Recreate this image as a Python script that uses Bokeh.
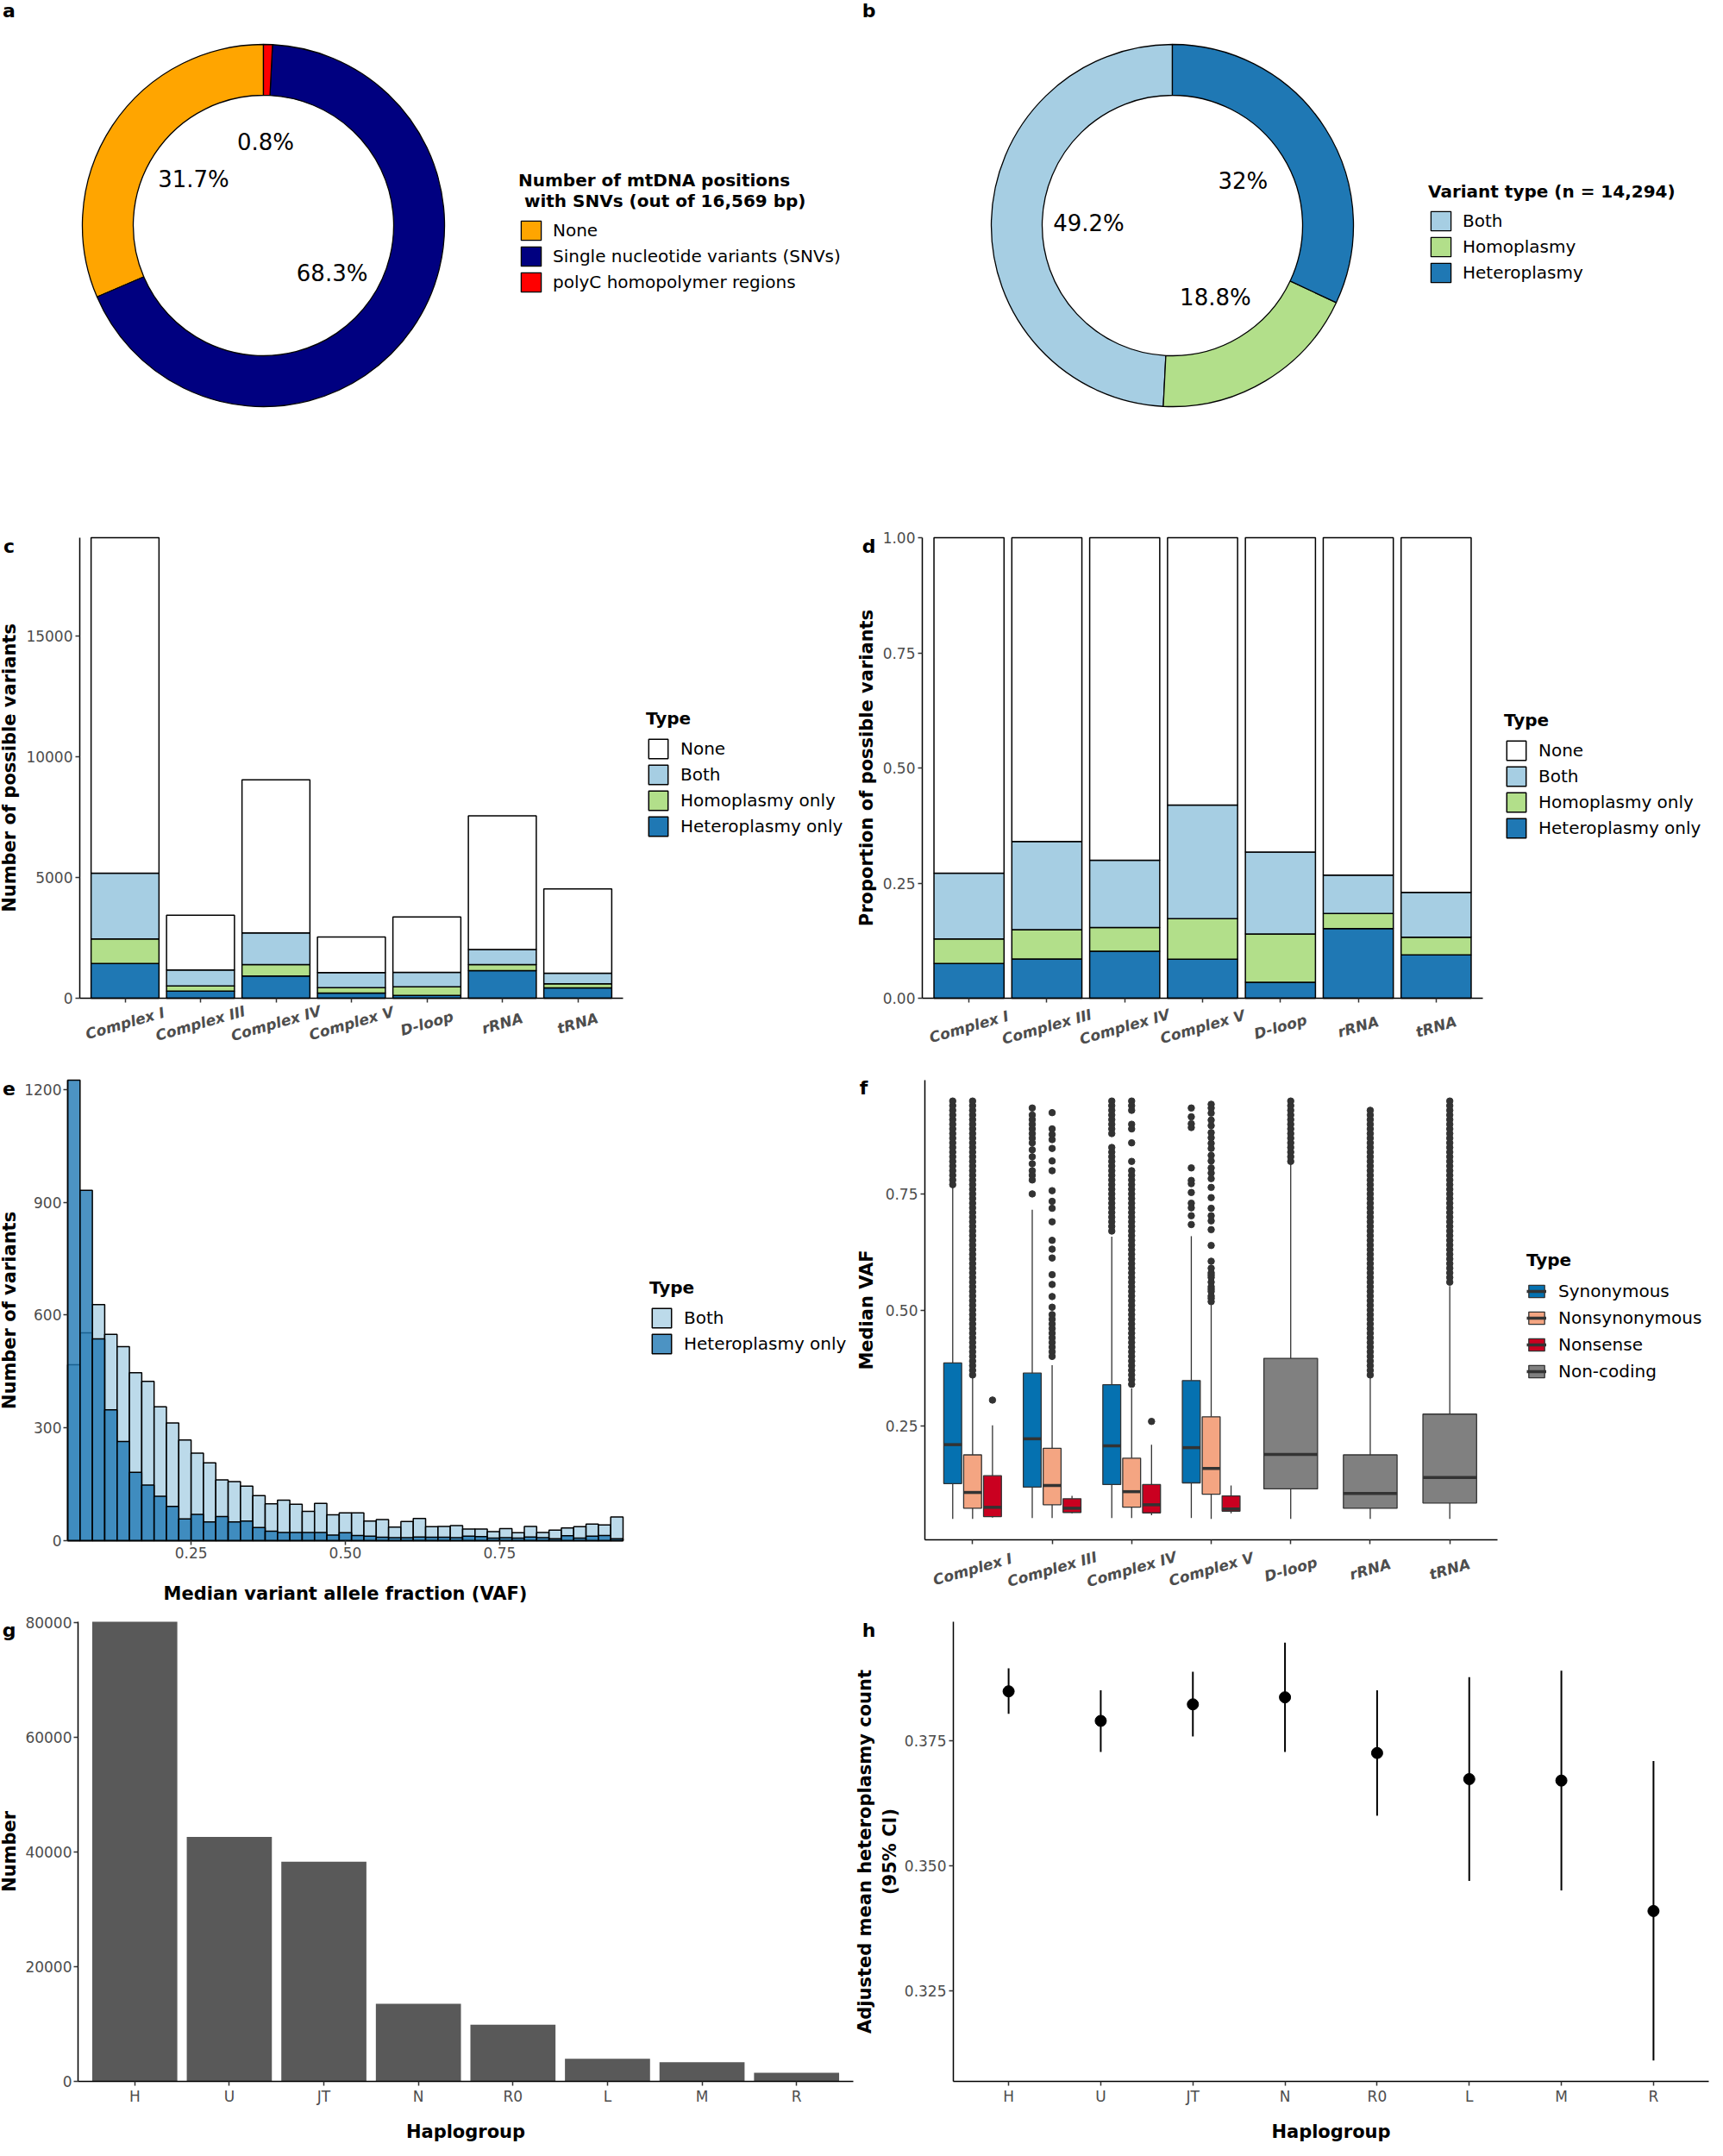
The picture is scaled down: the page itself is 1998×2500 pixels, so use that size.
import numpy as np
from bokeh.plotting import figure
from bokeh.models import (Range1d, FixedTicker, NumeralTickFormatter, Legend,
                          LegendItem, Label, ColumnDataSource)
from bokeh.layouts import row, column
from bokeh.embed import file_html
from bokeh.resources import INLINE
from bokeh.core.properties import value

FONT = "DejaVu Sans"
TICK_GREY = "#4d4d4d"

# ---------------- data ----------------
# panel a
a_labels = ["None", "Single nucleotide variants (SNVs)", "polyC homopolymer regions"]
a_pct = [31.7, 68.3, 0.8]
a_colors = ["#FFA500", "#000080", "#FF0000"]
a_clockwise = ["polyC homopolymer regions", "Single nucleotide variants (SNVs)", "None"]
a_title = "Number of mtDNA positions\n with SNVs (out of 16,569 bp)"

# panel b
b_labels = ["Both", "Homoplasmy", "Heteroplasmy"]
b_pct = [49.2, 18.8, 32.0]
b_colors = ["#a6cee3", "#b2df8a", "#1f78b4"]
b_clockwise = ["Heteroplasmy", "Homoplasmy", "Both"]
b_title = "Variant type (n = 14,294)"

# panels c, d
regions = ["Complex I", "Complex III", "Complex IV", "Complex V", "D-loop", "rRNA", "tRNA"]
c_het = [1435, 293, 922, 215, 117, 1142, 425]
c_homo = [1025, 219, 469, 222, 352, 249, 175]
c_both = [2723, 659, 1318, 625, 600, 630, 440]
c_none = [13895, 2270, 6339, 1471, 2298, 5534, 3484]
type_labels = ["None", "Both", "Homoplasmy only", "Heteroplasmy only"]
type_colors = ["white", "#a6cee3", "#b2df8a", "#1f78b4"]

# panel e (histogram, bins of width 0.02 from 0.05 to 0.95)
e_bin_start = 0.05
e_bin_width = 0.02
e_both = [468, 553, 628, 549, 516, 447, 424, 356, 313, 268, 233, 207, 162, 157, 145,
          120, 98, 108, 97, 78, 99, 69, 74, 74, 52, 56, 36, 51, 59, 37,
          38, 40, 31, 31, 24, 32, 21, 38, 22, 28, 34, 37, 44, 42, 63]
e_het = [1225, 932, 537, 348, 264, 182, 148, 118, 91, 58, 70, 50, 64, 50, 52,
         35, 25, 22, 22, 22, 22, 15, 21, 14, 12, 9, 8, 8, 10, 9,
         9, 8, 12, 11, 7, 8, 7, 10, 8, 5, 13, 7, 12, 14, 5]

# panel f (boxplots)
f_types = ["Synonymous", "Nonsynonymous", "Nonsense", "Non-coding"]
f_colors = ["#0571b0", "#f4a582", "#ca0020", "#808080"]
f_box_region = ["Complex I"] * 3 + ["Complex III"] * 3 + ["Complex IV"] * 3 + \
               ["Complex V"] * 3 + ["D-loop", "rRNA", "tRNA"]
f_box_type = ["Synonymous", "Nonsynonymous", "Nonsense"] * 4 + ["Non-coding"] * 3
f_q1 = [0.126, 0.073, 0.055, 0.1185, 0.0805, 0.064, 0.124, 0.0752, 0.063,
        0.1276, 0.1033, 0.0668, 0.1147, 0.073, 0.0843]
f_med = [0.210, 0.107, 0.075, 0.2226, 0.122, 0.073, 0.2074, 0.1087, 0.0805,
         0.2035, 0.1587, 0.0714, 0.189, 0.1048, 0.139]
f_q3 = [0.386, 0.188, 0.143, 0.364, 0.202, 0.0935, 0.339, 0.1808, 0.124,
        0.348, 0.270, 0.0995, 0.3958, 0.188, 0.2757]
f_lo = [0.050, 0.050, 0.053, 0.052, 0.052, 0.062, 0.052, 0.052, 0.058,
        0.052, 0.050, 0.062, 0.050, 0.050, 0.050]
f_hi = [0.768, 0.354, 0.2515, 0.716, 0.381, 0.0995, 0.658, 0.331, 0.21,
        0.659, 0.515, 0.122, 0.817, 0.358, 0.5515]
ci_syn_out = [0.77, 0.78, 0.79, 0.80, 0.81, 0.82, 0.83, 0.84, 0.85, 0.86, 0.87, 0.88,
              0.89, 0.90, 0.91, 0.92, 0.93, 0.94, 0.95]
ci_non_out = [0.36, 0.37, 0.38, 0.39, 0.40, 0.41, 0.42, 0.43, 0.44, 0.45, 0.46, 0.47,
              0.48, 0.49, 0.50, 0.51, 0.52, 0.53, 0.54, 0.55, 0.56, 0.57, 0.58, 0.59,
              0.60, 0.61, 0.62, 0.63, 0.64, 0.65, 0.66, 0.67, 0.68, 0.69, 0.70, 0.71,
              0.72, 0.73, 0.74, 0.75, 0.76, 0.77, 0.78, 0.79, 0.80, 0.81, 0.82, 0.83,
              0.84, 0.85, 0.86, 0.87, 0.88, 0.89, 0.90, 0.91, 0.92, 0.93, 0.94, 0.95]
ci_nsense_out = [0.306]
ciii_syn_out = [0.935, 0.92, 0.91, 0.90, 0.89, 0.88, 0.87, 0.86, 0.845, 0.83, 0.815,
                0.80, 0.79, 0.78, 0.75]
ciii_non_out = [0.925, 0.89, 0.878, 0.867, 0.848, 0.821, 0.80, 0.757, 0.734, 0.719,
                0.69, 0.65, 0.631, 0.612, 0.576, 0.555, 0.529, 0.506, 0.49, 0.48,
                0.47, 0.46, 0.45, 0.44, 0.43, 0.42, 0.41, 0.40]
ciii_nsense_out = []
civ_syn_out = [0.95, 0.94, 0.93, 0.92, 0.91, 0.90, 0.89, 0.88, 0.85, 0.84, 0.83, 0.82,
               0.81, 0.80, 0.79, 0.78, 0.77, 0.76, 0.75, 0.74, 0.73, 0.72, 0.71, 0.70,
               0.69, 0.68, 0.67]
civ_non_out = [0.95, 0.94, 0.93, 0.90, 0.89, 0.86, 0.82, 0.80, 0.79, 0.78, 0.77, 0.76,
               0.75, 0.74, 0.73, 0.72, 0.71, 0.70, 0.69, 0.68, 0.67, 0.66, 0.65, 0.64,
               0.63, 0.62, 0.61, 0.60, 0.59, 0.58, 0.57, 0.56, 0.55, 0.54, 0.53, 0.52,
               0.51, 0.50, 0.49, 0.48, 0.47, 0.46, 0.45, 0.44, 0.43, 0.42, 0.41, 0.40,
               0.39, 0.38, 0.37, 0.36, 0.35, 0.34]
civ_nsense_out = [0.26]
cv_syn_out = [0.935, 0.916, 0.901, 0.893, 0.806, 0.779, 0.772, 0.753, 0.730, 0.720,
              0.703, 0.684]
cv_non_out = [0.943, 0.935, 0.924, 0.909, 0.897, 0.882, 0.871, 0.859, 0.848, 0.833,
              0.821, 0.806, 0.795, 0.783, 0.764, 0.742, 0.719, 0.703, 0.692, 0.673,
              0.639, 0.605, 0.59, 0.58, 0.575, 0.57, 0.56, 0.55, 0.545, 0.54, 0.53,
              0.525, 0.518]
cv_nsense_out = []
dloop_out = [0.82, 0.83, 0.84, 0.85, 0.86, 0.87, 0.88, 0.89, 0.90, 0.91, 0.92, 0.93,
             0.94, 0.95]
rrna_out = [0.36, 0.37, 0.38, 0.39, 0.40, 0.41, 0.42, 0.43, 0.44, 0.45, 0.46, 0.47,
            0.48, 0.49, 0.50, 0.51, 0.52, 0.53, 0.54, 0.55, 0.56, 0.57, 0.58, 0.59,
            0.60, 0.61, 0.62, 0.63, 0.64, 0.65, 0.66, 0.67, 0.68, 0.69, 0.70, 0.71,
            0.72, 0.73, 0.74, 0.75, 0.76, 0.77, 0.78, 0.79, 0.80, 0.81, 0.82, 0.83,
            0.84, 0.85, 0.86, 0.87, 0.88, 0.89, 0.90, 0.91, 0.92, 0.93]
trna_out = [0.56, 0.57, 0.58, 0.59, 0.60, 0.61, 0.62, 0.63, 0.64, 0.65, 0.66, 0.67,
            0.68, 0.69, 0.70, 0.71, 0.72, 0.73, 0.74, 0.75, 0.76, 0.77, 0.78, 0.79,
            0.80, 0.81, 0.82, 0.83, 0.84, 0.85, 0.86, 0.87, 0.88, 0.89, 0.90, 0.91,
            0.92, 0.93, 0.94, 0.95]
f_outliers = [ci_syn_out, ci_non_out, ci_nsense_out, ciii_syn_out, ciii_non_out,
              ciii_nsense_out, civ_syn_out, civ_non_out, civ_nsense_out, cv_syn_out,
              cv_non_out, cv_nsense_out, dloop_out, rrna_out, trna_out]

# panels g, h
haplogroups = ["H", "U", "JT", "N", "R0", "L", "M", "R"]
g_counts = [80120, 42600, 38300, 13510, 9880, 3940, 3330, 1515]
h_mean = [0.3848, 0.3789, 0.3822, 0.3836, 0.3725, 0.3673, 0.3670, 0.3410]
h_lower = [0.3803, 0.3727, 0.3758, 0.3727, 0.3600, 0.3470, 0.3451, 0.3112]
h_upper = [0.3894, 0.3850, 0.3887, 0.3945, 0.3850, 0.3876, 0.3889, 0.3709]

# ---------------- helpers ----------------
W = 991


def style(p):
    p.xgrid.visible = False
    p.ygrid.visible = False
    p.outline_line_color = None
    for ax in p.axis:
        ax.axis_line_color = "black"
        ax.axis_line_width = 1.5
        ax.major_tick_line_color = "#333333"
        ax.major_tick_line_width = 1.5
        ax.major_tick_out = 5
        ax.major_tick_in = 0
        ax.minor_tick_line_color = None
        ax.major_label_text_font = FONT
        ax.major_label_text_font_size = "17px"
        ax.major_label_text_color = TICK_GREY
        ax.major_label_standoff = 3
        ax.axis_label_text_font = FONT
        ax.axis_label_text_font_size = "21px"
        ax.axis_label_text_font_style = "bold"
        ax.axis_label_text_color = "black"


def panel(H, L, R, T, B, x0, x1, y0, y1):
    """Figure whose frame fills the canvas; the data box [x0,x1]x[y0,y1]
    occupies pixels L..R (left/right) and T..B (top/bottom)."""
    sx = (R - L) / (x1 - x0)
    sy = (B - T) / (y1 - y0)
    xr = Range1d(x0 - L / sx, x1 + (W - R) / sx)
    yr = Range1d(y0 - (H - B) / sy, y1 + T / sy)
    p = figure(width=W, height=H, x_range=xr, y_range=yr, min_border=0,
               output_backend="svg", toolbar_location=None)
    style(p)
    p.xaxis.fixed_location = y0
    p.xaxis.bounds = (x0, x1)
    p.yaxis.fixed_location = x0
    p.yaxis.bounds = (y0, y1)
    return p


def tag(p, letter, sx, sy):
    p.add_layout(Label(x=sx, y=sy, x_units="screen", y_units="screen", text=letter,
                       text_font=FONT, text_font_size="22px", text_font_style="bold",
                       text_color="black", text_align="center", text_baseline="middle"))


def add_legend(p, items, title, loc, gw=28, gh=28, spacing=2, standoff=12, tstand=9):
    lg = Legend(items=items, location=loc, title=title, orientation="vertical")
    lg.title_text_font = FONT
    lg.title_text_font_size = "20px"
    lg.title_text_font_style = "bold"
    lg.title_text_color = "black"
    lg.title_standoff = tstand
    lg.label_text_font = FONT
    lg.label_text_font_size = "20px"
    lg.label_text_color = "black"
    lg.glyph_width = gw
    lg.glyph_height = gh
    lg.label_height = 20
    lg.spacing = spacing
    lg.padding = 0
    lg.margin = 0
    lg.label_standoff = standoff
    lg.border_line_color = None
    lg.background_fill_alpha = 0
    p.add_layout(lg)


def cat_labels(p, cats, sy, angle=0.28):
    for i, c in enumerate(cats):
        p.add_layout(Label(x=i + 1, y=sy, x_units="data", y_units="screen", text=c,
                           angle=angle, text_align="center", text_baseline="middle",
                           text_font=FONT, text_font_size="17px",
                           text_font_style="bold italic", text_color=TICK_GREY))


def cat_axis(ax, n, labels=None):
    ax.ticker = FixedTicker(ticks=list(range(1, n + 1)))
    if labels is None:
        ax.major_label_text_color = None
    else:
        ax.major_label_overrides = {i + 1: lab for i, lab in enumerate(labels)}


# ---------------- row 1 : donuts ----------------
H1 = 572
R_OUT, R_IN, R_LAB = 210, 151, 97


def donut_fig(cx, cy, labels, pct, colors, clockwise, title, leg_loc, letter, tag_x):
    p = figure(width=W, height=H1, x_range=Range1d(0, W), y_range=Range1d(0, H1),
               x_axis_location=None, y_axis_location=None, min_border=0,
               output_backend="svg", toolbar_location=None)
    p.outline_line_color = None
    p.grid.visible = False
    frac = np.array(pct) / np.sum(pct)
    starts = np.zeros(len(pct))
    ends = np.zeros(len(pct))
    cum = 0.0
    for lab in clockwise:
        i = labels.index(lab)
        starts[i] = cum
        cum += frac[i]
        ends[i] = cum
    src = ColumnDataSource(dict(start=np.pi / 2 - 2 * np.pi * starts,
                                end=np.pi / 2 - 2 * np.pi * ends,
                                color=colors, label=labels))
    r = p.annular_wedge(x=cx, y=cy, inner_radius=R_IN, outer_radius=R_OUT,
                        start_angle="start", end_angle="end", direction="clock",
                        fill_color="color", line_color="black", line_width=1.3,
                        source=src)
    mid = (starts + ends) / 2 * 2 * np.pi
    p.text(x=cx + R_LAB * np.sin(mid), y=cy + R_LAB * np.cos(mid),
           text=[f"{v:g}%" for v in pct], text_align="center", text_baseline="middle",
           text_font=value(FONT), text_font_size="26px", text_color="black")
    items = [LegendItem(label=lab, renderers=[r], index=i) for i, lab in enumerate(labels)]
    add_legend(p, items, title, leg_loc, gw=29, gh=28, spacing=2, standoff=11, tstand=8)
    tag(p, letter, tag_x, H1 - 12)
    return p


pa = donut_fig(305, 311, a_labels, a_pct, a_colors, a_clockwise, a_title, (601, 231), "a", 10)
pb = donut_fig(368, 311, b_labels, b_pct, b_colors, b_clockwise, b_title, (665, 242), "b", 16)

# ---------------- row 2 : stacked bars ----------------
H2 = 660
xs7 = np.arange(1, len(regions) + 1)
totals = np.array(c_het) + np.array(c_homo) + np.array(c_both) + np.array(c_none)
stack_keys = ["het", "homo", "both", "none"]
stack_cols = [type_colors[3], type_colors[2], type_colors[1], type_colors[0]]


def stack_legend(rs):
    return [LegendItem(label=type_labels[0], renderers=[rs[3]]),
            LegendItem(label=type_labels[1], renderers=[rs[2]]),
            LegendItem(label=type_labels[2], renderers=[rs[1]]),
            LegendItem(label=type_labels[3], renderers=[rs[0]])]


src_c = ColumnDataSource(dict(x=xs7, het=c_het, homo=c_homo, both=c_both, none=c_none))
pc = panel(H2, 92, 722, 51, 585, 0.4, 7.6, 0, float(totals.max()))
rc = pc.vbar_stack(stack_keys, x="x", width=0.9, color=stack_cols, line_color="black",
                   line_width=1.5, source=src_c)
pc.yaxis.ticker = FixedTicker(ticks=[0, 5000, 10000, 15000])
pc.yaxis.formatter = NumeralTickFormatter(format="0")
pc.yaxis.axis_label = "Number of possible variants"
pc.yaxis.axis_label_standoff = 4
cat_axis(pc.xaxis[0], len(regions))
cat_labels(pc, regions, 46)
add_legend(pc, stack_legend(rc), "Type", (749, 260))
tag(pc, "c", 10, H2 - 61)

src_d = ColumnDataSource(dict(x=xs7, het=np.array(c_het) / totals,
                              homo=np.array(c_homo) / totals,
                              both=np.array(c_both) / totals,
                              none=np.array(c_none) / totals))
pd_ = panel(H2, 78, 728, 51, 585, 0.4, 7.6, 0, 1)
rd = pd_.vbar_stack(stack_keys, x="x", width=0.9, color=stack_cols, line_color="black",
                    line_width=1.5, source=src_d)
pd_.yaxis.ticker = FixedTicker(ticks=[0, 0.25, 0.5, 0.75, 1.0])
pd_.yaxis.formatter = NumeralTickFormatter(format="0.00")
pd_.yaxis.axis_label = "Proportion of possible variants"
pd_.yaxis.axis_label_standoff = 4
cat_axis(pd_.xaxis[0], len(regions))
cat_labels(pd_, regions, 42)
add_legend(pd_, stack_legend(rd), "Type", (753, 258))
tag(pd_, "d", 16, H2 - 61)

# ---------------- row 3 : histogram + boxplots ----------------
H3 = 630
edges = e_bin_start + e_bin_width * np.arange(len(e_het) + 1)
pe = panel(H3, 78, 722, 20, 554, edges[0], edges[-1], 0, max(max(e_het), max(e_both)))
r_both = pe.quad(left=edges[:-1], right=edges[1:], bottom=0, top=e_both,
                 fill_color="#a6cee3", fill_alpha=0.75, line_color="black", line_width=1.5)
r_het = pe.quad(left=edges[:-1], right=edges[1:], bottom=0, top=e_het,
                fill_color="#1f78b4", fill_alpha=0.8, line_color="black", line_width=1.5)
pe.yaxis.ticker = FixedTicker(ticks=[0, 300, 600, 900, 1200])
pe.yaxis.formatter = NumeralTickFormatter(format="0")
pe.yaxis.axis_label = "Number of variants"
pe.yaxis.major_label_standoff = 2
pe.yaxis.axis_label_standoff = 2
pe.xaxis.ticker = FixedTicker(ticks=[0.25, 0.5, 0.75])
pe.xaxis.formatter = NumeralTickFormatter(format="0.00")
pe.xaxis.axis_label = "Median variant allele fraction (VAF)"
pe.xaxis.major_label_standoff = 2
pe.xaxis.axis_label_standoff = 26
add_legend(pe, [LegendItem(label="Both", renderers=[r_both]),
                LegendItem(label="Heteroplasmy only", renderers=[r_het])],
           "Type", (753, 290))
tag(pe, "e", 10, H3 - 29)

pf = panel(H3, 81, 745, 20, 553, 0.4, 7.6, 0.005, 0.995)
f_offset = {"Synonymous": -0.25, "Nonsynonymous": 0.0, "Nonsense": 0.25, "Non-coding": 0.0}
f_width = {"Synonymous": 0.225, "Nonsynonymous": 0.225, "Nonsense": 0.225, "Non-coding": 0.675}
f_items = []
for t, col in zip(f_types, f_colors):
    idx = [i for i, tt in enumerate(f_box_type) if tt == t]
    bx = np.array([regions.index(f_box_region[i]) + 1 + f_offset[t] for i in idx])
    w = f_width[t]
    src = ColumnDataSource(dict(x=bx, l=bx - w / 2, r=bx + w / 2,
                                q1=[f_q1[i] for i in idx], med=[f_med[i] for i in idx],
                                q3=[f_q3[i] for i in idx], lo=[f_lo[i] for i in idx],
                                hi=[f_hi[i] for i in idx]))
    pf.segment(x0="x", y0="q3", x1="x", y1="hi", line_color="#333333", line_width=1.3, source=src)
    pf.segment(x0="x", y0="lo", x1="x", y1="q1", line_color="#333333", line_width=1.3, source=src)
    ox, oy = [], []
    for i, xx in zip(idx, bx):
        ox += [xx] * len(f_outliers[i])
        oy += list(f_outliers[i])
    pf.scatter(ox, oy, size=7.5, fill_color="#333333", line_color="#333333")
    box = pf.vbar(x="x", width=w, bottom="q1", top="q3", fill_color=col,
                  line_color="#333333", line_width=1.3, source=src)
    med = pf.segment(x0="l", y0="med", x1="r", y1="med", line_color="#333333",
                     line_width=3.5, source=src)
    f_items.append(LegendItem(label=t, renderers=[box, med]))
pf.yaxis.ticker = FixedTicker(ticks=[0.25, 0.5, 0.75])
pf.yaxis.formatter = NumeralTickFormatter(format="0.00")
pf.yaxis.axis_label = "Median VAF"
pf.yaxis.axis_label_standoff = 7
cat_axis(pf.xaxis[0], len(regions))
cat_labels(pf, regions, (H3 - 553) - 34)
add_legend(pf, f_items, "Type", (779, 260), gw=23, gh=18, spacing=7, standoff=14, tstand=12)
tag(pf, "f", 10, H3 - 29)

# ---------------- row 4 : haplogroups ----------------
H4 = 622
xs8 = np.arange(1, len(haplogroups) + 1)
pg = panel(H4, 90, 989, 18, 551, 0.4, 8.6, 0, max(g_counts))
pg.vbar(x=xs8, top=g_counts, width=0.9, fill_color="#595959", line_color=None)
pg.yaxis.ticker = FixedTicker(ticks=[0, 20000, 40000, 60000, 80000])
pg.yaxis.formatter = NumeralTickFormatter(format="0")
pg.yaxis.axis_label = "Number"
pg.yaxis.major_label_standoff = 2
pg.yaxis.axis_label_standoff = 3
cat_axis(pg.xaxis[0], len(haplogroups), haplogroups)
pg.xaxis.axis_label = "Haplogroup"
pg.xaxis.major_label_standoff = 2
pg.xaxis.axis_label_standoff = 16
tag(pg, "g", 10, H4 - 28)

h_lo = min(h_lower)
h_hi = max(h_upper)
h_pad = 0.05 * (h_hi - h_lo)
ph = panel(H4, 114, 990, 18, 551, 0.4, 8.6, h_lo - h_pad, h_hi + h_pad)
ph.segment(x0=xs8, y0=h_lower, x1=xs8, y1=h_upper, line_color="black", line_width=2)
ph.scatter(xs8, h_mean, size=13, fill_color="black", line_color="black")
ph.yaxis.ticker = FixedTicker(ticks=[0.325, 0.35, 0.375])
ph.yaxis.formatter = NumeralTickFormatter(format="0.000")
ph.yaxis.axis_label = "Adjusted mean heteroplasmy count\n(95% CI)"
ph.yaxis.axis_label_standoff = 2
cat_axis(ph.xaxis[0], len(haplogroups), haplogroups)
ph.xaxis.axis_label = "Haplogroup"
ph.xaxis.major_label_standoff = 2
ph.xaxis.axis_label_standoff = 16
tag(ph, "h", 16, H4 - 28)

layout = column(row(pa, pb), row(pc, pd_), row(pe, pf), row(pg, ph))
open("out.html", "w").write(file_html(layout, INLINE))
